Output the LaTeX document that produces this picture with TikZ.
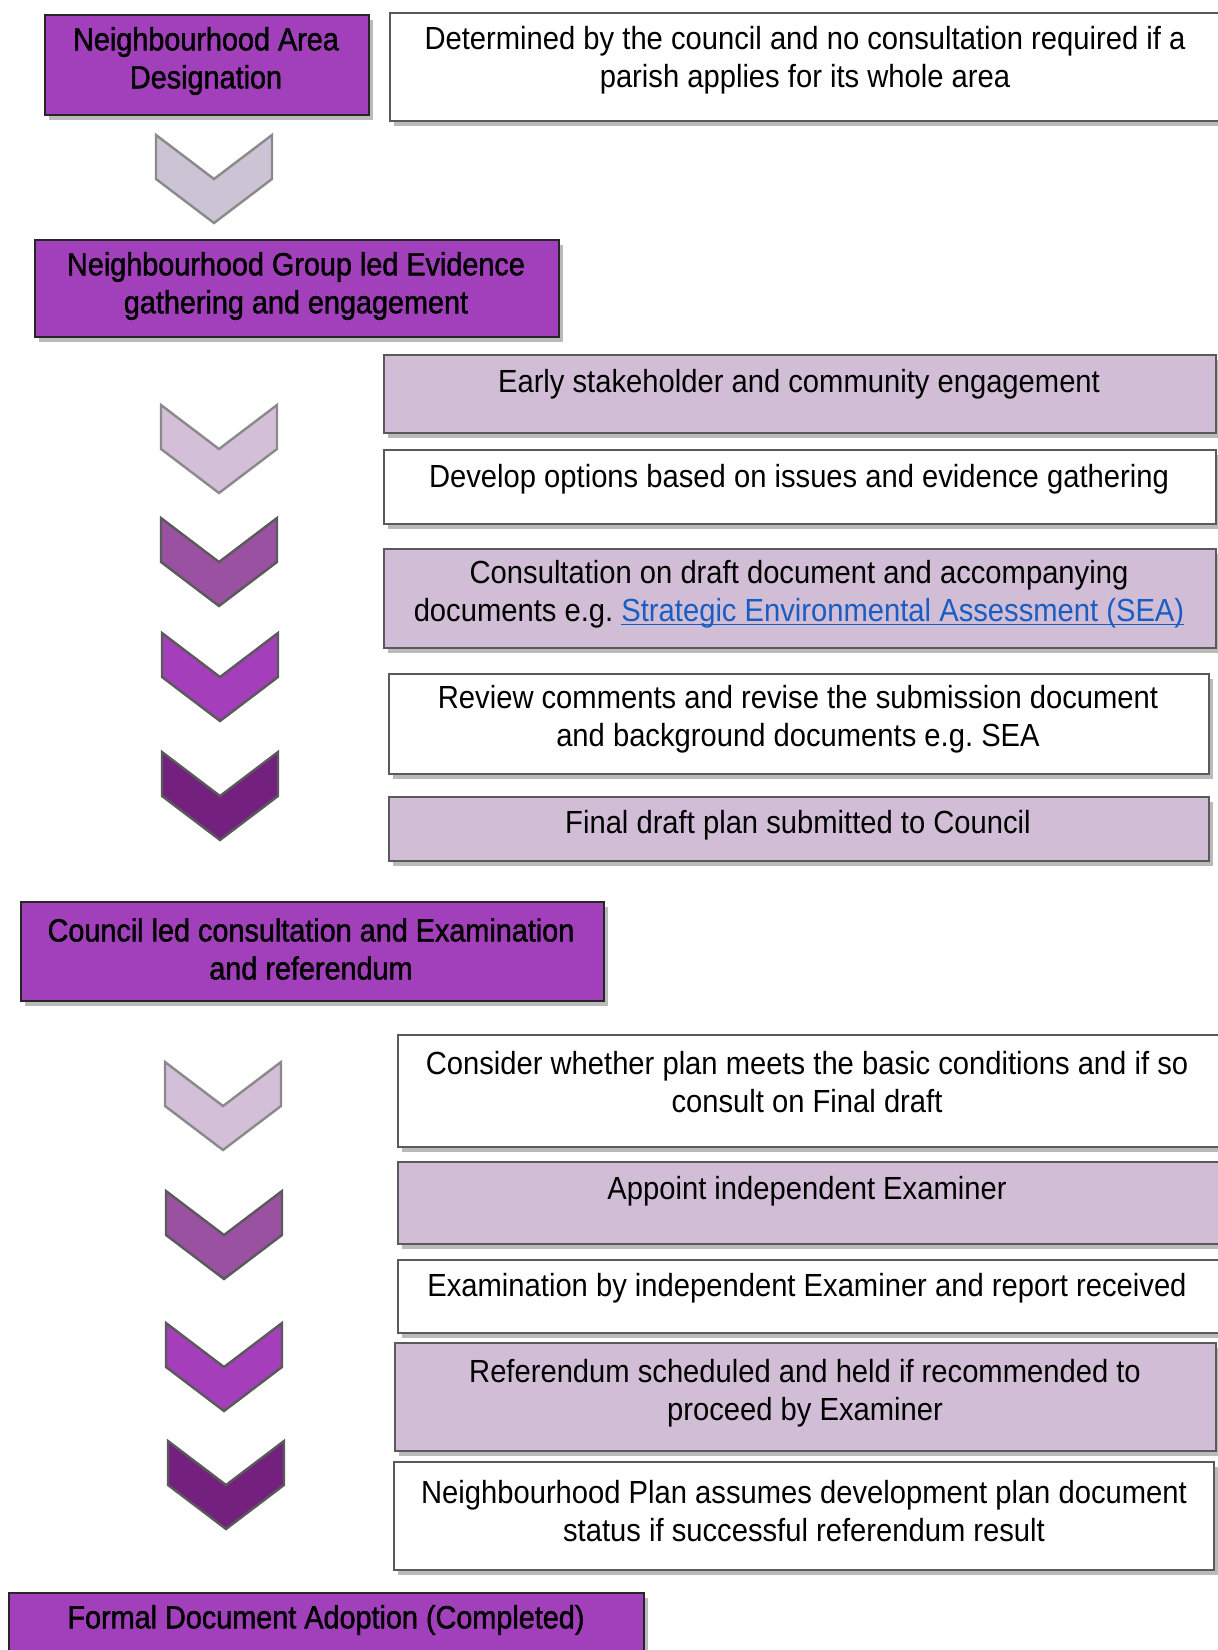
\documentclass[tikz,border=0pt]{standalone}
\usepackage{fontspec}
\setmainfont{Liberation Sans}[FakeStretch=0.912]
\newfontfamily\hdrfont{Liberation Sans}[FakeStretch=0.9, FakeBold=1.4]
\usetikzlibrary{shadows}
\frenchspacing
\definecolor{hdrfill}{HTML}{A23FBA}
\definecolor{lavfill}{HTML}{D1BED6}
\definecolor{boxline}{HTML}{5A5A5A}
\definecolor{chA}{HTML}{CCC4D4}
\definecolor{chB}{HTML}{D3BFD7}
\definecolor{chC}{HTML}{9A51A2}
\definecolor{chD}{HTML}{A43EBB}
\definecolor{chE}{HTML}{74207F}
\definecolor{linkblue}{HTML}{1A5DC2}
\definecolor{lightline}{HTML}{8A8A8A}
\newcommand\mychev[5]{% name, x0, y0, fill, draw
  \draw[line width=1.2pt, fill=#4, draw=#5, line join=miter] (#2,#3) -- ++(58,44) -- ++(58,-44) -- ++(0,44) -- ++(-58,44) -- ++(-58,-44) -- cycle;
  \coordinate (#1) at (#2+58,#3+44);}
\newcommand\mylink[1]{\textcolor{linkblue}{\underline{\smash{#1}}}}
\begin{document}
\begin{tikzpicture}[x=0.5pt,y=-0.5pt,
  every node/.style={font=\fontsize{16}{19}\selectfont},
  boxbase/.style={draw, line width=1pt, anchor=north west, inner sep=0pt,
     drop shadow={shadow xshift=2pt, shadow yshift=-2.5pt, opacity=0.45, fill=black!60}},
  hdrbox/.style={boxbase, fill=hdrfill, draw=black!85},
  whitebox/.style={boxbase, fill=white, draw=boxline},
  lavbox/.style={boxbase, fill=lavfill, draw=boxline},
  txt/.style={align=center, inner sep=0pt, text=black},
  htxt/.style={txt, font=\hdrfont\fontsize{16}{19}\selectfont}]
\useasboundingbox (0,0) rectangle (1217,1650);
\fill[white] (0,0) rectangle (1217,1650);

% headers
\node[hdrbox, minimum width=324*0.5pt, minimum height=100*0.5pt] (h1) at (44,14) {};
\node[htxt] (h1t) at (206,61) {Neighbourhood Area\\Designation};
\node[hdrbox, minimum width=524*0.5pt, minimum height=97*0.5pt] (h2) at (34,239) {};
\node[htxt] (h2t) at (296,286) {Neighbourhood Group led Evidence\\gathering and engagement};
\node[hdrbox, minimum width=583*0.5pt, minimum height=99*0.5pt] (h3) at (20,901) {};
\node[htxt] (h3t) at (311,949) {Council led consultation and Examination\\and referendum};
\node[hdrbox, minimum width=635*0.5pt, minimum height=80*0.5pt] (h4) at (8,1592) {};
\node[htxt] (h4t) at (326,1620) {Formal Document Adoption (Completed)};

% info boxes
\node[whitebox, minimum width=840*0.5pt, minimum height=108*0.5pt] (b0) at (389,12) {};
\node[txt] (b0t) at (805,60) {Determined by the council and no consultation required if a\\parish applies for its whole area};

\node[lavbox, minimum width=832*0.5pt, minimum height=78*0.5pt] (b1) at (383,354) {};
\node[txt] (b1t) at (799,384) {Early stakeholder and community engagement};
\node[whitebox, minimum width=832*0.5pt, minimum height=74*0.5pt] (b2) at (383,449) {};
\node[txt] (b2t) at (799,479) {Develop options based on issues and evidence gathering};
\node[lavbox, minimum width=832*0.5pt, minimum height=99*0.5pt] (b3) at (383,548) {};
\node[txt] (b3t) at (799,594) {Consultation on draft document and accompanying\\documents e.g. \mylink{Strategic Environmental Assessment (SEA)}};
\node[whitebox, minimum width=820*0.5pt, minimum height=100*0.5pt] (b4) at (388,673) {};
\node[txt] (b4t) at (798,719) {Review comments and revise the submission document\\and background documents e.g. SEA};
\node[lavbox, minimum width=820*0.5pt, minimum height=64*0.5pt] (b5) at (388,796) {};
\node[txt] (b5t) at (798,825) {Final draft plan submitted to Council};

\node[whitebox, minimum width=830*0.5pt, minimum height=112*0.5pt] (b6) at (397,1034) {};
\node[txt] (b6t) at (807,1082) {Consider whether plan meets the basic conditions and if so\\consult on Final draft};
\node[lavbox, minimum width=830*0.5pt, minimum height=82*0.5pt] (b7) at (397,1161) {};
\node[txt] (b7t) at (807,1191) {Appoint independent Examiner};
\node[whitebox, minimum width=830*0.5pt, minimum height=73*0.5pt] (b8) at (397,1259) {};
\node[txt] (b8t) at (807,1288) {Examination by independent Examiner and report received};
\node[lavbox, minimum width=821*0.5pt, minimum height=108*0.5pt] (b9) at (394,1342) {};
\node[txt] (b9t) at (805,1393) {Referendum scheduled and held if recommended to\\proceed by Examiner};
\node[whitebox, minimum width=820*0.5pt, minimum height=108*0.5pt] (b10) at (393,1461) {};
\node[txt] (b10t) at (804,1511) {Neighbourhood Plan assumes development plan document\\status if successful referendum result};

% chevrons
\mychev{c0}{156}{135}{chA}{lightline}
\mychev{c1}{161}{405}{chB}{lightline}
\mychev{c2}{161}{518}{chC}{boxline}
\mychev{c3}{162}{633}{chD}{boxline}
\mychev{c4}{162}{752}{chE}{boxline}
\mychev{c5}{165}{1062}{chB}{lightline}
\mychev{c6}{166}{1191}{chC}{boxline}
\mychev{c7}{166}{1323}{chD}{boxline}
\mychev{c8}{168}{1441}{chE}{boxline}
\end{tikzpicture}
\end{document}
